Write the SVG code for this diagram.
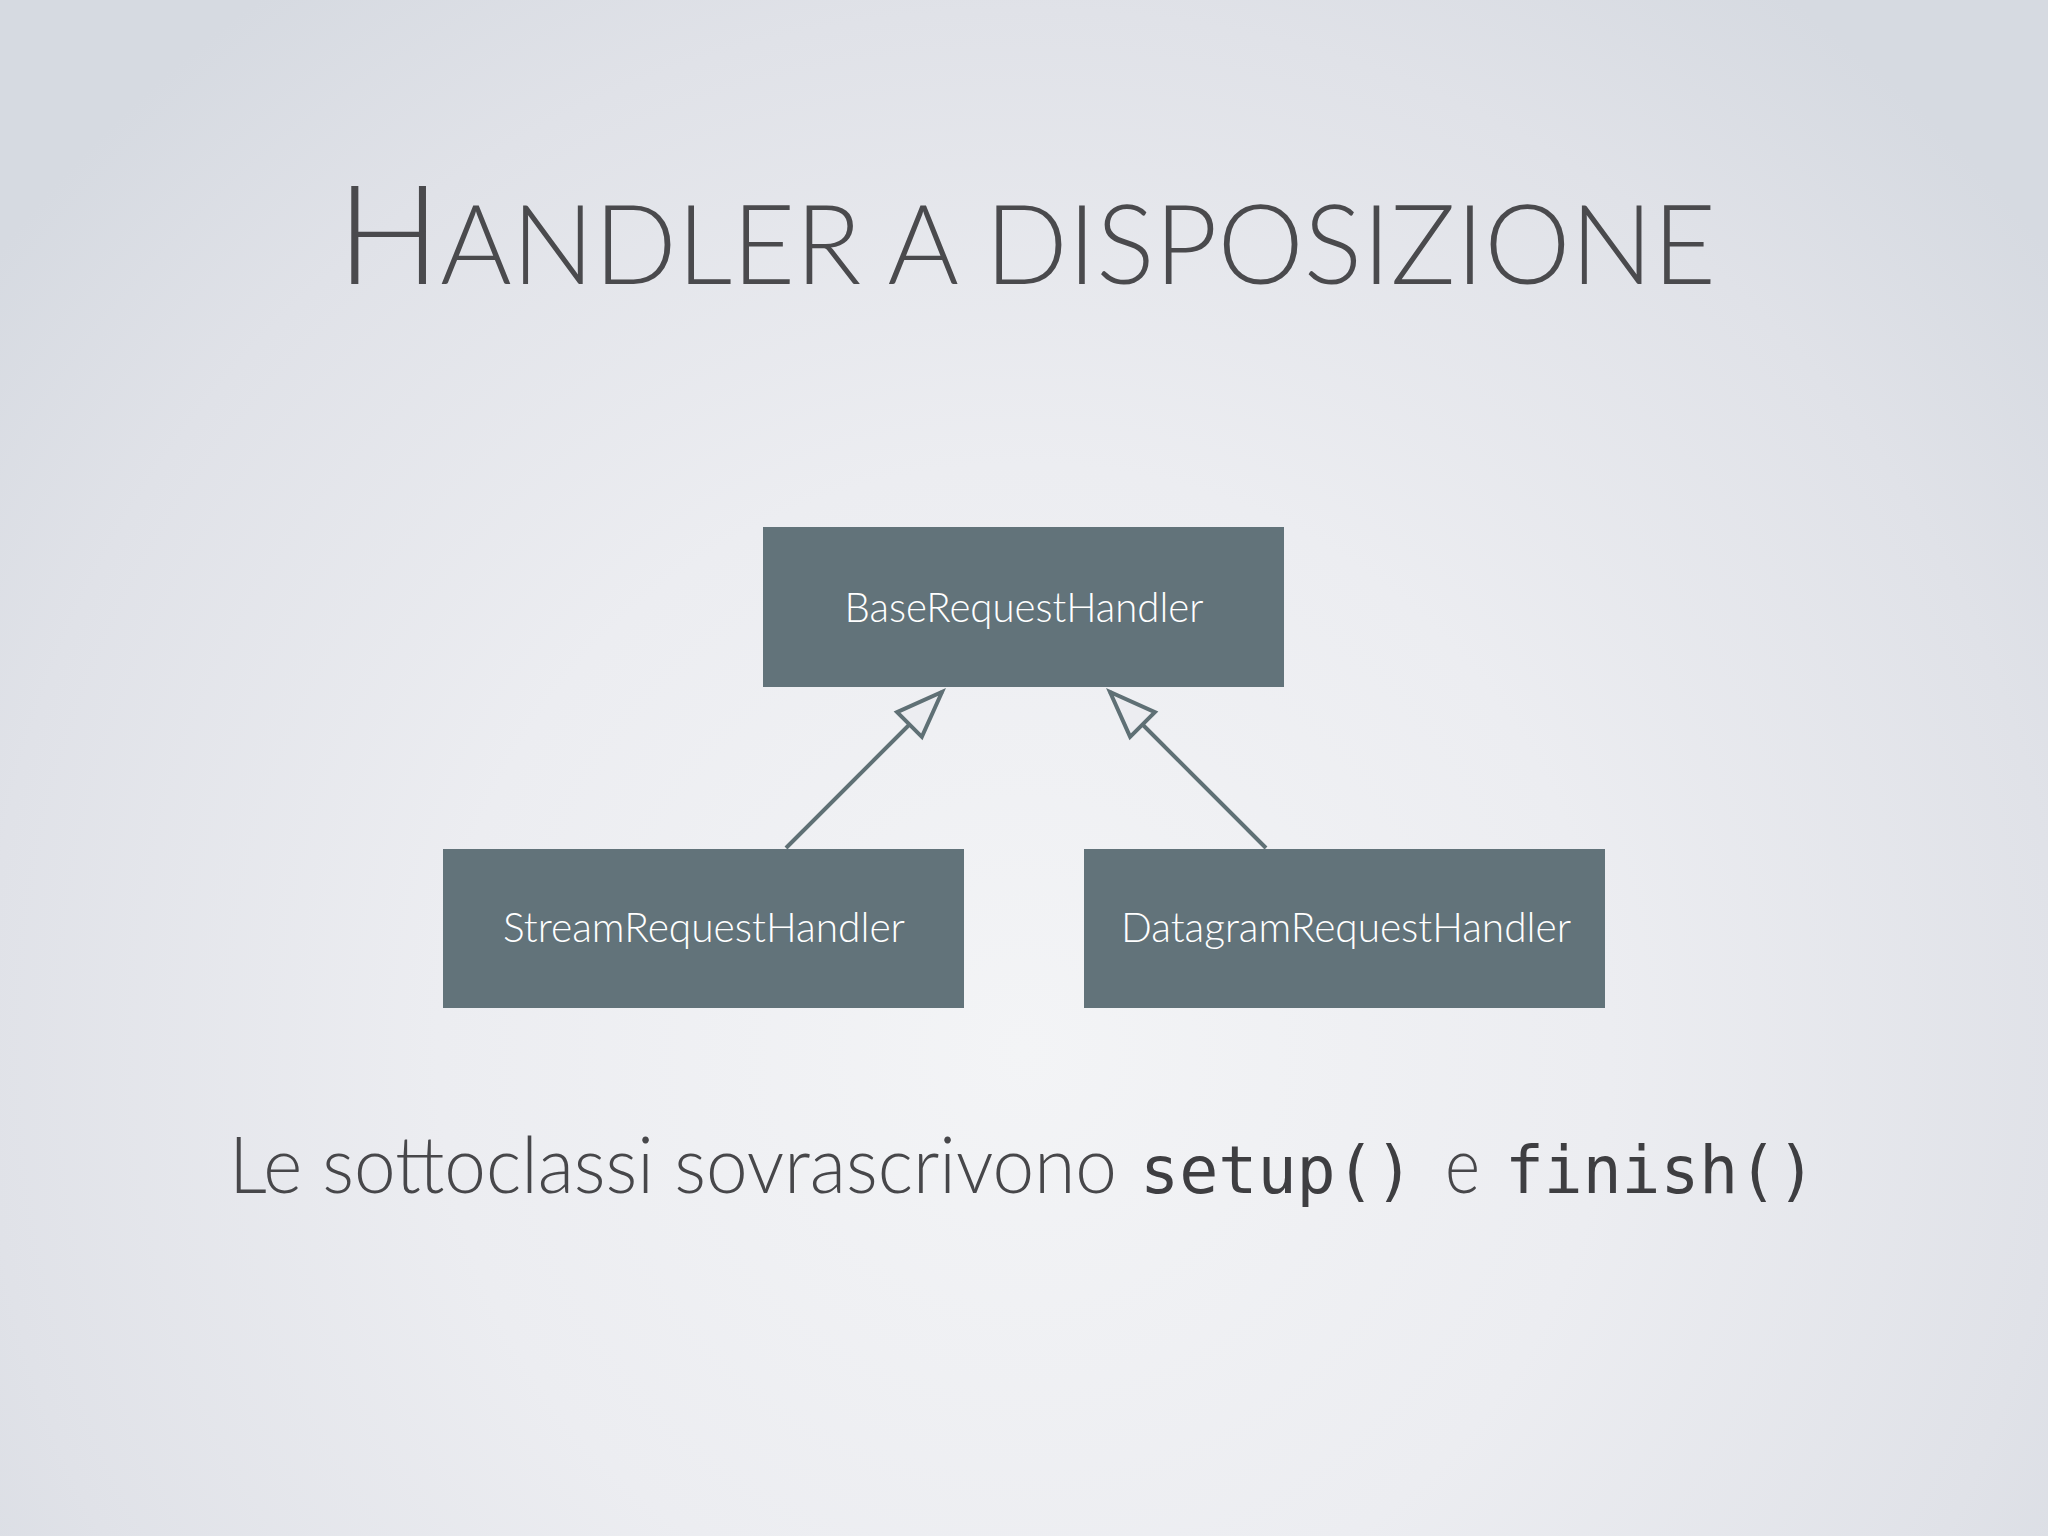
<svg xmlns="http://www.w3.org/2000/svg" width="2048" height="1536" viewBox="0 0 2048 1536">
  <defs>
    <radialGradient id="bg" cx="1024" cy="1050" r="1300" gradientUnits="userSpaceOnUse">
      <stop offset="0" stop-color="#F3F4F6"/>
      <stop offset="0.45" stop-color="#ECEDF1"/>
      <stop offset="0.8" stop-color="#E0E2E8"/>
      <stop offset="1" stop-color="#D6DAE1"/>
    </radialGradient>
    <marker id="inherit" markerUnits="userSpaceOnUse" viewBox="-4 -4 56 44" refX="46" refY="17.5" markerWidth="56" markerHeight="44" orient="auto">
      <path d="M0,0 L46,17.5 L0,35 Z" fill="#ECEDF1" stroke="#5F7075" stroke-width="4" stroke-linejoin="miter"/>
    </marker>
  </defs>
  <style>
    .box { fill: #62737A; }
    .label { font-family: "Lato", "Open Sans", "Liberation Sans", sans-serif; font-weight: 300; font-size: 41px; fill: #FFFFFF; text-anchor: middle; }
    .title { font-family: "Lato", "Open Sans", "Liberation Sans", sans-serif; font-weight: 300; fill: #4A4A4D; }
    .body { font-family: "Lato", "Open Sans", "Liberation Sans", sans-serif; font-weight: 300; font-size: 78px; fill: #47474A; }
    .code { font-family: "DejaVu Sans Mono", "Liberation Mono", monospace; font-size: 65px; fill: #3E3E41; }
    .edge { fill: none; stroke: #5F7075; stroke-width: 4; marker-end: url(#inherit); }
  </style>
  <rect x="0" y="0" width="2048" height="1536" fill="url(#bg)"/>

  <text class="title" x="337" y="284" textLength="1379" lengthAdjust="spacingAndGlyphs"><tspan font-size="138">H</tspan><tspan font-size="110">ANDLER A DISPOSIZIONE</tspan></text>

  <g id="connectors">
    <path class="edge" d="M786,848 L942,692"/>
    <path class="edge" d="M1266,848 L1110,692"/>
  </g>

  <g id="BaseRequestHandler">
    <rect class="box" x="763" y="527" width="521" height="160"/>
    <text class="label" x="1024" y="622" textLength="359" lengthAdjust="spacingAndGlyphs">BaseRequestHandler</text>
  </g>
  <g id="StreamRequestHandler">
    <rect class="box" x="443" y="849" width="521" height="159"/>
    <text class="label" x="704" y="942" textLength="402" lengthAdjust="spacingAndGlyphs">StreamRequestHandler</text>
  </g>
  <g id="DatagramRequestHandler">
    <rect class="box" x="1084" y="849" width="521" height="159"/>
    <text class="label" x="1346" y="942" textLength="450" lengthAdjust="spacingAndGlyphs">DatagramRequestHandler</text>
  </g>

  <text class="body" x="229" y="1193" textLength="888" lengthAdjust="spacingAndGlyphs">Le sottoclassi sovrascrivono</text>
  <text class="code" x="1140" y="1193" textLength="274" lengthAdjust="spacingAndGlyphs">setup()</text>
  <text class="body" x="1445" y="1193" textLength="35" lengthAdjust="spacingAndGlyphs">e</text>
  <text class="code" x="1505" y="1193" textLength="311" lengthAdjust="spacingAndGlyphs">finish()</text>
</svg>
